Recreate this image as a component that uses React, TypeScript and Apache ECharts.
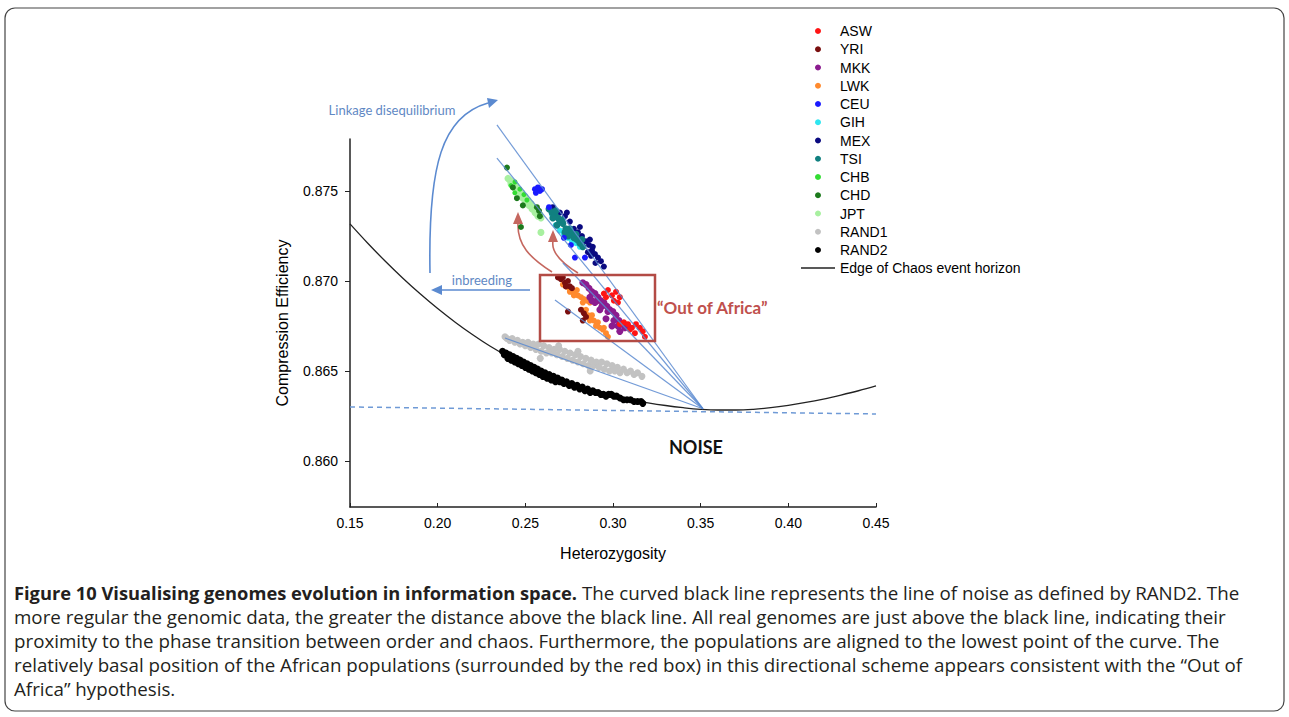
import React, { useEffect, useRef } from "react";
import * as echarts from "echarts";

// ---------- axes ----------
const xTicks = [0.15, 0.2, 0.25, 0.3, 0.35, 0.4, 0.45];
const yTicks = [0.86, 0.865, 0.87, 0.875];
const xRange = [0.15, 0.45];
const yRange = [0.85744, 0.87789];

// ---------- edge of chaos curve ----------
const edgeX = [0.15, 0.16, 0.17, 0.18, 0.19, 0.2, 0.21, 0.22, 0.23, 0.24, 0.25, 0.26, 0.27, 0.28, 0.29, 0.3, 0.31, 0.32, 0.33, 0.34, 0.35, 0.36, 0.37, 0.38, 0.39, 0.4, 0.41, 0.42, 0.43, 0.44, 0.45];
const edgeY = [0.87317, 0.87211, 0.87111, 0.87017, 0.86929, 0.86847, 0.86771, 0.86701, 0.86637, 0.86581, 0.86531, 0.86489, 0.8645, 0.86416, 0.86387, 0.86362, 0.86341, 0.86323, 0.86308, 0.86296, 0.86287, 0.86283, 0.86283, 0.86287, 0.86296, 0.86309, 0.86325, 0.86344, 0.86366, 0.8639, 0.86417];

// dashed noise floor
const noiseX = [0.15, 0.45];
const noiseY = [0.863, 0.86261];

// fan of alignment lines converging on the curve minimum
const fanApex = [0.3513, 0.8629];
const fanStarts = [
  [0.2338, 0.87867],
  [0.2338, 0.87683],
  [0.2714, 0.871],
  [0.2669, 0.86894],
  [0.2384, 0.86683],
];

// ---------- populations ----------
const ASW = [[0.2948,0.8693],[0.2971,0.8695],[0.2994,0.8692],[0.3017,0.8694],[0.3039,0.8691],[0.296,0.8691],[0.3005,0.8689],[0.3028,0.8688],[0.3062,0.8677],[0.3085,0.8676],[0.3108,0.8674],[0.3131,0.8676],[0.3153,0.8674],[0.317,0.8672],[0.3096,0.8673],[0.3125,0.8671],[0.3039,0.8676],[0.3182,0.8669]];
const YRI = [[0.2686,0.8702],[0.2703,0.8701],[0.2714,0.8702],[0.2726,0.8699],[0.2743,0.87],[0.2754,0.8697],[0.2766,0.8696],[0.2731,0.8697],[0.2743,0.8683],[0.2817,0.8684],[0.2834,0.8682],[0.2846,0.868],[0.2828,0.8678]];
const MKK = [[0.2828,0.8699],[0.2846,0.8698],[0.2863,0.8696],[0.288,0.8694],[0.2897,0.8693],[0.2914,0.8691],[0.2931,0.8689],[0.2948,0.8688],[0.2965,0.8686],[0.2982,0.8684],[0.2999,0.8683],[0.3017,0.8681],[0.3034,0.8678],[0.3051,0.8676],[0.3068,0.8674],[0.3039,0.8672],[0.2994,0.8675],[0.296,0.8679],[0.2925,0.8684],[0.2897,0.8688],[0.2868,0.8691],[0.3005,0.8678],[0.2971,0.8683],[0.2937,0.8686],[0.2909,0.8689],[0.3028,0.8675],[0.288,0.8689],[0.3085,0.8675]];
const LWK = [[0.2714,0.8698],[0.2731,0.8697],[0.2749,0.8696],[0.2766,0.8694],[0.2783,0.8693],[0.28,0.8692],[0.2817,0.8691],[0.2834,0.869],[0.2851,0.8689],[0.2868,0.8688],[0.2754,0.8694],[0.2794,0.8695],[0.2828,0.8688],[0.2777,0.8692],[0.2823,0.8684],[0.284,0.8683],[0.2857,0.8681],[0.2874,0.8679],[0.2891,0.8678],[0.2908,0.8676],[0.2925,0.8674],[0.2942,0.8673],[0.296,0.8671],[0.2971,0.8669],[0.2846,0.8684],[0.288,0.8681],[0.2914,0.8677],[0.2948,0.8674],[0.2868,0.8678],[0.2903,0.8675]];
const CEU = [[0.2555,0.8751],[0.2572,0.8752],[0.2583,0.875],[0.256,0.8749],[0.2595,0.8751],[0.2635,0.8741],[0.2783,0.8713],[0.284,0.8713],[0.276,0.872],[0.272,0.8724]];
const GIH = [[0.2674,0.8731],[0.2697,0.8728],[0.272,0.8726],[0.2743,0.8724],[0.2766,0.8722],[0.2789,0.8721],[0.2811,0.8719],[0.2697,0.8733],[0.2652,0.8737]];
const MEX = [[0.2657,0.8741],[0.2697,0.8738],[0.2726,0.8736],[0.2754,0.8733],[0.2777,0.8729],[0.28,0.8727],[0.2823,0.8725],[0.2846,0.8722],[0.2863,0.872],[0.288,0.8717],[0.2897,0.8715],[0.2914,0.8713],[0.2931,0.8711],[0.2948,0.8708],[0.2857,0.8716],[0.2885,0.8719],[0.2868,0.8723],[0.2811,0.873],[0.2737,0.8738],[0.29,0.871],[0.2875,0.8714]];
const TSI = [[0.2635,0.874],[0.2652,0.8738],[0.2669,0.8737],[0.2686,0.8735],[0.2697,0.8733],[0.2714,0.8732],[0.2731,0.8729],[0.2743,0.8728],[0.276,0.8727],[0.2777,0.8724],[0.2794,0.8723],[0.2811,0.8721],[0.2828,0.8719],[0.2674,0.8739],[0.2709,0.8734],[0.2754,0.8729],[0.2789,0.8726],[0.2823,0.8723],[0.2657,0.8735],[0.2726,0.8727],[0.268,0.8731],[0.2745,0.8725]];
const CHB = [[0.2418,0.8753],[0.2441,0.8755],[0.2469,0.8751],[0.2492,0.8748],[0.2509,0.8745],[0.244,0.8749]];
const CHD = [[0.2395,0.8763],[0.2429,0.8752],[0.2452,0.8746],[0.2486,0.8742],[0.2578,0.8739],[0.2583,0.8736],[0.2475,0.873],[0.2566,0.8741]];
const JPT = [[0.2401,0.8757],[0.2412,0.8756],[0.2418,0.8754],[0.2429,0.8755],[0.2435,0.8752],[0.2446,0.8753],[0.2452,0.875],[0.2463,0.8751],[0.2469,0.8748],[0.248,0.8749],[0.2486,0.8746],[0.2498,0.8747],[0.2503,0.8744],[0.2515,0.8745],[0.2521,0.8742],[0.2532,0.8743],[0.2538,0.874],[0.2549,0.8741],[0.2555,0.8738],[0.2566,0.8738],[0.2572,0.8736],[0.2583,0.8737],[0.2589,0.8735],[0.2589,0.8727]];
const RAND1 = [[0.2384,0.8669],[0.2395,0.8668],[0.241,0.8667],[0.2425,0.8668],[0.244,0.8666],[0.2455,0.8667],[0.247,0.8665],[0.2485,0.8666],[0.25,0.8664],[0.2515,0.8666],[0.253,0.8663],[0.2545,0.8665],[0.256,0.8662],[0.2575,0.8665],[0.259,0.8661],[0.2605,0.8664],[0.262,0.866],[0.2635,0.8663],[0.265,0.866],[0.2665,0.8662],[0.268,0.8659],[0.2695,0.8662],[0.271,0.8658],[0.2725,0.8661],[0.274,0.8657],[0.2755,0.866],[0.277,0.8656],[0.2785,0.8659],[0.28,0.8655],[0.2815,0.8658],[0.283,0.8654],[0.2845,0.8657],[0.286,0.8653],[0.2875,0.8656],[0.289,0.8653],[0.2905,0.8655],[0.292,0.8652],[0.2935,0.8655],[0.295,0.8651],[0.2965,0.8654],[0.298,0.865],[0.2995,0.8653],[0.301,0.865],[0.3025,0.8652],[0.304,0.8649],[0.306,0.8651],[0.308,0.8649],[0.31,0.865],[0.312,0.8648],[0.314,0.8649],[0.3165,0.8647],[0.2585,0.8657],[0.287,0.865],[0.269,0.8664],[0.28,0.8661]];
const RAND2 = [[0.237,0.8661],[0.238,0.8659],[0.239,0.866],[0.24,0.8657],[0.241,0.8659],[0.242,0.8656],[0.243,0.8658],[0.244,0.8655],[0.245,0.8657],[0.246,0.8654],[0.247,0.8656],[0.248,0.8653],[0.249,0.8655],[0.25,0.8652],[0.251,0.8654],[0.252,0.8651],[0.253,0.8653],[0.254,0.865],[0.255,0.8652],[0.256,0.8649],[0.257,0.8651],[0.258,0.8648],[0.259,0.865],[0.26,0.8647],[0.2612,0.8649],[0.2624,0.8646],[0.2636,0.8648],[0.2648,0.8645],[0.266,0.8647],[0.2672,0.8644],[0.2684,0.8646],[0.2696,0.8644],[0.2708,0.8645],[0.272,0.8643],[0.2735,0.8644],[0.275,0.8642],[0.2765,0.8643],[0.278,0.8641],[0.2795,0.8642],[0.281,0.864],[0.2825,0.8641],[0.284,0.8639],[0.2855,0.864],[0.287,0.8638],[0.2885,0.8639],[0.29,0.8638],[0.2915,0.8638],[0.293,0.8637],[0.2945,0.8637],[0.296,0.8636],[0.2975,0.8637],[0.299,0.8637],[0.3005,0.8636],[0.302,0.8636],[0.304,0.8635],[0.306,0.8634],[0.308,0.8634],[0.31,0.8634],[0.312,0.8633],[0.314,0.8633],[0.316,0.8633],[0.317,0.8632]];

const scatterLegend = ["ASW", "YRI", "MKK", "LWK", "CEU", "GIH", "MEX", "TSI", "CHB", "CHD", "JPT", "RAND1", "RAND2"];
const lineLegend = "Edge of Chaos event horizon";

// drawing order (bottom to top)
const populations = [
  { name: "RAND1", data: RAND1, color: "#c2c2c2", size: 7 },
  { name: "RAND2", data: RAND2, color: "#000000", size: 7 },
  { name: "JPT", data: JPT, color: "#a8f0a0", size: 7 },
  { name: "CHB", data: CHB, color: "#33dd33", size: 5 },
  { name: "CHD", data: CHD, color: "#1c7a1c", size: 6 },
  { name: "MEX", data: MEX, color: "#0a0a80", size: 6 },
  { name: "GIH", data: GIH, color: "#2ee6f0", size: 6 },
  { name: "TSI", data: TSI, color: "#118080", size: 7 },
  { name: "CEU", data: CEU, color: "#1a1aff", size: 6 },
  { name: "LWK", data: LWK, color: "#ff8a2e", size: 6 },
  { name: "MKK", data: MKK, color: "#8b1c8f", size: 7 },
  { name: "YRI", data: YRI, color: "#7a0f0f", size: 6 },
  { name: "ASW", data: ASW, color: "#ff1414", size: 6 },
];

const captionLines = [
  "more regular the genomic data, the greater the distance above the black line. All real genomes are just above the black line, indicating their",
  "proximity to the phase transition between order and chaos. Furthermore, the populations are aligned to the lowest point of the curve. The",
  "relatively basal position of the African populations (surrounded by the red box) in this directional scheme appears consistent with the \u201COut of",
  "Africa\u201D hypothesis.",
];
const captionBold = "Figure 10 Visualising genomes evolution in information space.";
const captionFirst = " The curved black line represents the line of noise as defined by RAND2. The";

const AX_FONT = "'Liberation Sans', Arial, sans-serif";
const NOTE_FONT = "Lato, 'Open Sans', sans-serif";
const CAP_FONT = "'Open Sans', 'Noto Sans', sans-serif";
const CAP_BOLD_SIZE = 18.3;
const CAP_SIZE = 18.75;
const BLUE = "#5b8ad0";
const RED = "#c5675f";

export default function App() {
  const ref = useRef<HTMLDivElement>(null);
  useEffect(() => {
    if (!ref.current) return;
    const chart = echarts.init(ref.current, null, { renderer: "svg" });

    const scatterSeries = populations.map((p) => ({
      type: "scatter",
      name: p.name,
      data: p.data,
      symbol: "circle",
      symbolSize: p.size,
      itemStyle: { color: p.color, opacity: 1 },
      emphasis: { disabled: true },
      z: 3,
    }));

    const fanSeries = fanStarts.map((s, i) => ({
      type: "line",
      name: "fan" + i,
      data: [s, fanApex],
      symbol: "none",
      clip: false,
      lineStyle: { color: BLUE, width: 1.2, opacity: 0.85 },
      emphasis: { disabled: true },
      z: 4,
    }));

    const option: any = {
      animation: false,
      backgroundColor: "#ffffff",
      grid: { left: 350, top: 139, width: 526, height: 368, containLabel: false },
      xAxis: {
        type: "value",
        min: xRange[0],
        max: xRange[1],
        name: "Heterozygosity",
        nameLocation: "middle",
        nameGap: 38,
        nameTextStyle: { fontFamily: AX_FONT, fontSize: 16, color: "#000" },
        axisLine: { show: true, lineStyle: { color: "#222", width: 1.5 } },
        axisTick: { show: true, inside: true, length: 4, customValues: xTicks, lineStyle: { color: "#222" } },
        axisLabel: {
          customValues: xTicks,
          formatter: (v: number) => v.toFixed(2),
          fontFamily: AX_FONT,
          fontSize: 14,
          color: "#000",
          margin: 9,
        },
        splitLine: { show: false },
      },
      yAxis: {
        type: "value",
        min: yRange[0],
        max: yRange[1],
        name: "Compression Efficiency",
        nameLocation: "middle",
        nameGap: 60,
        nameTextStyle: { fontFamily: AX_FONT, fontSize: 16, color: "#000" },
        axisLine: { show: true, lineStyle: { color: "#222", width: 1.5 } },
        axisTick: { show: true, length: 5, customValues: yTicks, lineStyle: { color: "#222" } },
        axisLabel: {
          customValues: yTicks,
          formatter: (v: number) => v.toFixed(3),
          fontFamily: AX_FONT,
          fontSize: 14,
          color: "#000",
          margin: 12,
        },
        splitLine: { show: false },
      },
      legend: [
        {
          orient: "vertical",
          left: 815,
          top: 24,
          itemWidth: 34,
          itemHeight: 6,
          itemGap: 4.25,
          padding: 0,
          selectedMode: false,
          icon: "circle",
          data: scatterLegend,
          textStyle: { fontFamily: AX_FONT, fontSize: 14, color: "#000", lineHeight: 14 },
        },
        {
          orient: "vertical",
          left: 801,
          top: 261,
          itemWidth: 34,
          itemHeight: 1.5,
          padding: 0,
          selectedMode: false,
          icon: "rect",
          data: [lineLegend],
          itemStyle: { color: "#222" },
          textStyle: { fontFamily: AX_FONT, fontSize: 14, color: "#000", lineHeight: 14 },
        },
      ],
      series: [
        ...scatterSeries,
        {
          type: "line",
          name: "noise",
          data: noiseX.map((x, i) => [x, noiseY[i]]),
          symbol: "none",
          lineStyle: { color: "#6f9ad6", width: 1.5, type: [5, 4] },
          emphasis: { disabled: true },
          z: 2,
        },
        {
          type: "line",
          name: lineLegend,
          data: edgeX.map((x, i) => [x, edgeY[i]]),
          symbol: "none",
          smooth: 0.4,
          itemStyle: { color: "#222" },
          lineStyle: { color: "#222", width: 1.3 },
          emphasis: { disabled: true },
          z: 2,
        },
        ...fanSeries,
      ],
      graphic: [
        {
          type: "rect",
          shape: { x: 5, y: 8, width: 1279, height: 703, r: 10 },
          style: { fill: "none", stroke: "#444", lineWidth: 1.2 },
          silent: true,
        },
        // linkage disequilibrium arrow
        {
          type: "bezierCurve",
          shape: { x1: 430, y1: 273, cpx1: 428, cpy1: 165, cpx2: 442, cpy2: 116, x2: 488, y2: 103 },
          style: { stroke: BLUE, lineWidth: 1.6, fill: "none" },
          silent: true,
        },
        {
          type: "polygon",
          shape: { points: [[498, 100], [489, 108], [487, 98]] },
          style: { fill: BLUE },
          silent: true,
        },
        {
          type: "text",
          style: { text: "Linkage disequilibrium", x: 392, y: 110, align: "center", verticalAlign: "middle", fontFamily: NOTE_FONT, fontSize: 13, fill: "#5f88c4" },
          silent: true,
        },
        // inbreeding arrow
        {
          type: "line",
          shape: { x1: 530, y1: 290, x2: 440, y2: 290 },
          style: { stroke: BLUE, lineWidth: 1.6 },
          silent: true,
        },
        {
          type: "polygon",
          shape: { points: [[431, 290], [442, 285], [442, 295]] },
          style: { fill: BLUE },
          silent: true,
        },
        {
          type: "text",
          style: { text: "inbreeding", x: 482, y: 280, align: "center", verticalAlign: "middle", fontFamily: NOTE_FONT, fontSize: 13, fill: "#5f88c4" },
          silent: true,
        },
        // red arrows
        {
          type: "bezierCurve",
          shape: { x1: 552, y1: 272, cpx1: 530, cpy1: 258, cpx2: 517, cpy2: 245, x2: 518, y2: 223 },
          style: { stroke: RED, lineWidth: 1.6, fill: "none" },
          silent: true,
        },
        {
          type: "polygon",
          shape: { points: [[518, 212], [513, 224], [523, 224]] },
          style: { fill: RED },
          silent: true,
        },
        {
          type: "bezierCurve",
          shape: { x1: 578, y1: 273, cpx1: 560, cpy1: 262, cpx2: 551, cpy2: 252, x2: 553, y2: 241 },
          style: { stroke: RED, lineWidth: 1.6, fill: "none" },
          silent: true,
        },
        {
          type: "polygon",
          shape: { points: [[553, 230], [548, 242], [558, 242]] },
          style: { fill: RED },
          silent: true,
        },
        // out of africa box
        {
          type: "rect",
          shape: { x: 540, y: 275, width: 115, height: 66 },
          style: { fill: "none", stroke: "#b34b45", lineWidth: 2.5 },
          silent: true,
          z: 10,
        },
        {
          type: "text",
          style: { text: "\u201COut of Africa\u201D", x: 657, y: 307, align: "left", verticalAlign: "middle", fontFamily: NOTE_FONT, fontSize: 17, fontWeight: "bold", fill: "#c0504d" },
          silent: true,
        },
        {
          type: "text",
          style: { text: "NOISE", x: 696, y: 447, align: "center", verticalAlign: "middle", fontFamily: NOTE_FONT, fontSize: 18, fontWeight: "bold", fill: "#111" },
          silent: true,
        },
        // caption
        {
          type: "text",
          style: {
            text: "{b|" + captionBold + "}{n|" + captionFirst + "}",
            x: 14,
            y: 592,
            verticalAlign: "middle",
            rich: {
              b: { fontFamily: CAP_FONT, fontSize: CAP_BOLD_SIZE, fontWeight: "bold", fill: "#231f20" },
              n: { fontFamily: CAP_FONT, fontSize: CAP_SIZE, fill: "#231f20" },
            },
          },
          silent: true,
        },
        ...captionLines.map((t, i) => ({
          type: "text",
          style: { text: t, x: 14, y: 616 + i * 24, verticalAlign: "middle", fontFamily: CAP_FONT, fontSize: CAP_SIZE, fill: "#231f20" },
          silent: true,
        })),
      ],
    };
    chart.setOption(option);
    return () => chart.dispose();
  }, []);

  return (
    <div
      ref={ref}
      style={{ position: "fixed", left: 0, top: 0, width: 1289, height: 717, background: "#fff" }}
    />
  );
}
